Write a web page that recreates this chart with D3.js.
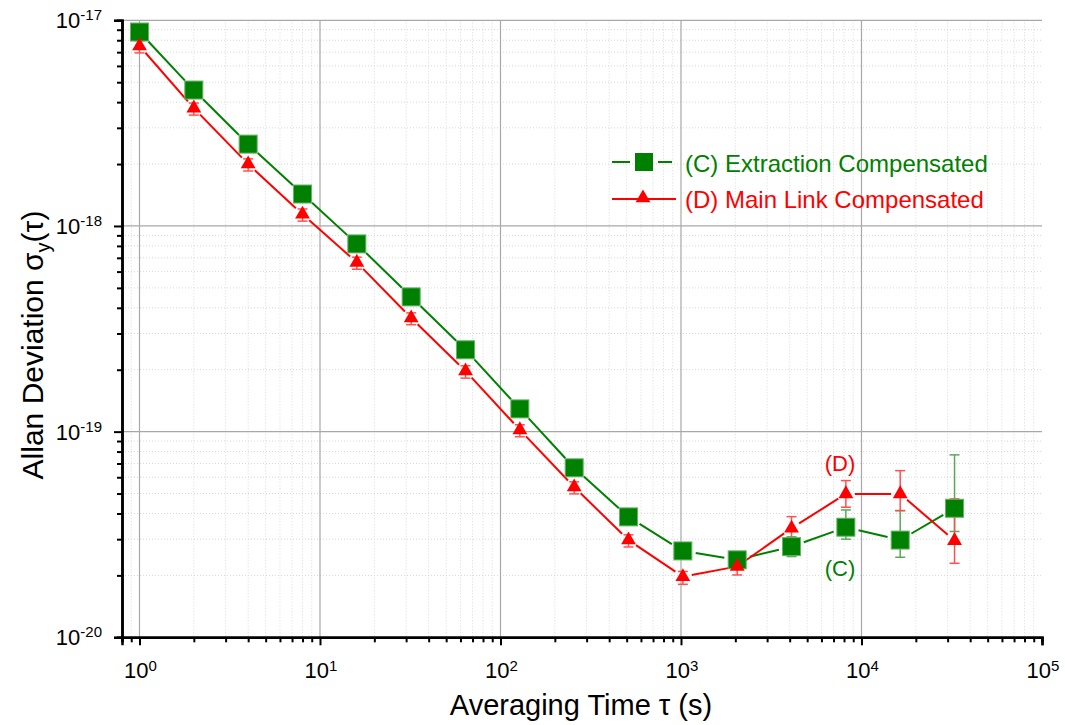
<!DOCTYPE html>
<html><head><meta charset="utf-8">
<script src="https://cdn.jsdelivr.net/npm/d3@7"></script>
<style>body{margin:0;background:#fff}svg text{font-family:"Liberation Sans",Arial,sans-serif}</style>
</head><body><svg id="c" width="1065" height="725"></svg>
<script>
const tau = [1,2,4,8,16,32,64,128,256,512,1024,2048,4096,8192,16384,32768];
const seriesC = [8.77e-18,4.58e-18,2.50e-18,1.43e-18,8.18e-19,4.52e-19,2.50e-19,1.29e-19,6.67e-20,3.85e-20,2.63e-20,2.38e-20,2.76e-20,3.43e-20,2.97e-20,4.24e-20];
const seriesCLo = [8.3e-18,4.35e-18,2.38e-18,1.36e-18,7.8e-19,4.3e-19,2.38e-19,1.22e-19,6.3e-20,3.65e-20,2.5e-20,2.28e-20,2.47e-20,3.00e-20,2.45e-20,3.27e-20];
const seriesCHi = [9.2e-18,4.8e-18,2.62e-18,1.5e-18,8.6e-19,4.75e-19,2.62e-19,1.36e-19,7.0e-20,4.05e-20,2.76e-20,2.5e-20,3.08e-20,4.16e-20,4.13e-20,7.71e-20];
const seriesD = [7.5e-18,3.74e-18,2.00e-18,1.14e-18,6.65e-19,3.57e-19,1.97e-19,1.02e-19,5.38e-20,2.97e-20,1.97e-20,2.21e-20,3.39e-20,4.98e-20,4.98e-20,2.95e-20];
const seriesDLo = [6.94e-18,3.46e-18,1.85e-18,1.056e-18,6.16e-19,3.31e-19,1.82e-19,9.44e-20,4.98e-20,2.75e-20,1.81e-20,2.01e-20,3.04e-20,4.29e-20,4.13e-20,2.29e-20];
const seriesDHi = [7.95e-18,3.96e-18,2.12e-18,1.21e-18,7.05e-19,3.78e-19,2.09e-19,1.08e-19,5.7e-20,3.15e-20,2.09e-20,2.38e-20,3.86e-20,5.78e-20,6.46e-20,4.71e-20];
const xMajor = [1,10,100,1000,10000,100000];
const xExp = ["0","1","2","3","4","5"];
const yMajor = [1e-20,1e-19,1e-18,1e-17];
const yExp = ["-20","-19","-18","-17"];
const legendLabels = ["(C) Extraction Compensated","(D) Main Link Compensated"];
const green = "#008000", red = "#ff0000";

const svg = d3.select("#c");
const L=122,R=1042,T=20.3,B=637.3;
const x = d3.scaleLog().domain([0.8,1e5]).range([L,R]);
const y = d3.scaleLog().domain([1e-20,1e-17]).range([B,T]);

const xMinor=[0.8,0.9];
for(let e=0;e<5;e++)for(let m=2;m<=9;m++)xMinor.push(m*Math.pow(10,e));
const yMinor=[];
for(let e=-20;e<-17;e++)for(let m=2;m<=9;m++)yMinor.push(m*Math.pow(10,e));

const g=svg.append("g");
g.selectAll(".xm").data(xMinor).enter().append("line").attr("x1",d=>x(d)).attr("x2",d=>x(d)).attr("y1",T).attr("y2",B).attr("stroke","#d8d8d8").attr("stroke-width",1).attr("stroke-dasharray","1,2");
g.selectAll(".ym").data(yMinor).enter().append("line").attr("y1",d=>y(d)).attr("y2",d=>y(d)).attr("x1",L).attr("x2",R).attr("stroke","#d8d8d8").attr("stroke-width",1).attr("stroke-dasharray","1,2");
g.selectAll(".xg").data(xMajor.slice(0,5)).enter().append("line").attr("x1",d=>x(d)).attr("x2",d=>x(d)).attr("y1",T).attr("y2",B).attr("stroke","#a8a8a8").attr("stroke-width",1.2);
g.selectAll(".yg").data(yMajor.slice(1)).enter().append("line").attr("y1",d=>y(d)).attr("y2",d=>y(d)).attr("x1",L).attr("x2",R).attr("stroke","#a8a8a8").attr("stroke-width",1.2);

const xAxisMajor=d3.axisBottom(x).tickValues(xMajor).tickSize(8).tickFormat("");
const xAxisMinor=d3.axisBottom(x).tickValues(xMinor).tickSize(5).tickFormat("");
const yAxisMajor=d3.axisLeft(y).tickValues(yMajor).tickSize(8).tickFormat("");
const yAxisMinor=d3.axisLeft(y).tickValues(yMinor).tickSize(5).tickFormat("");
function styleAxis(sel){sel.select(".domain").attr("stroke","#000").attr("stroke-width",2.5);sel.selectAll(".tick line").attr("stroke","#000").attr("stroke-width",2);}
svg.append("g").attr("transform",`translate(0,${B})`).call(xAxisMinor).call(styleAxis);
svg.append("g").attr("transform",`translate(0,${B})`).call(xAxisMajor).call(styleAxis);
svg.append("g").attr("transform",`translate(${L},0)`).call(yAxisMinor).call(styleAxis);
svg.append("g").attr("transform",`translate(${L},0)`).call(yAxisMajor).call(styleAxis);

xMajor.forEach((v,i)=>{
  const t=svg.append("text").attr("x",x(v)+1).attr("y",B+41).attr("text-anchor","middle").attr("font-size",22);
  t.append("tspan").text("10");
  t.append("tspan").attr("dy",-7).attr("font-size",15).text(xExp[i]);
});
yMajor.forEach((v,i)=>{
  const t=svg.append("text").attr("x",L-20).attr("y",y(v)+8).attr("text-anchor","end").attr("font-size",22);
  t.append("tspan").text("10");
  t.append("tspan").attr("dy",-8).attr("font-size",15).text(yExp[i]);
});

svg.append("text").attr("x",581).attr("y",715).attr("text-anchor","middle").attr("font-size",29).text("Averaging Time τ (s)");
const yt=svg.append("text").attr("transform","translate(43,345) rotate(-90)").attr("text-anchor","middle").attr("font-size",30);
yt.append("tspan").text("Allan Deviation σ");
yt.append("tspan").attr("dy",7).attr("font-size",20).text("y");
yt.append("tspan").attr("dy",-7).text("(τ)");

function gapLines(vals,color,gap){
  for(let i=0;i<vals.length-1;i++){
    const x1=x(tau[i]),y1=y(vals[i]),x2=x(tau[i+1]),y2=y(vals[i+1]);
    const dx=x2-x1,dy=y2-y1,len=Math.hypot(dx,dy);
    if(len<=2*gap)continue;
    const ux=dx/len,uy=dy/len;
    svg.append("line").attr("x1",x1+ux*gap).attr("y1",y1+uy*gap).attr("x2",x2-ux*gap).attr("y2",y2-uy*gap).attr("stroke",color).attr("stroke-width",2);
  }
}
function errBars(lo,hi,color){
  tau.forEach((t,i)=>{
    const cx=x(t);
    svg.append("line").attr("x1",cx).attr("x2",cx).attr("y1",y(lo[i])).attr("y2",y(hi[i])).attr("stroke",color).attr("stroke-width",1.5);
    [lo[i],hi[i]].forEach(v=>svg.append("line").attr("x1",cx-5).attr("x2",cx+5).attr("y1",y(v)).attr("y2",y(v)).attr("stroke",color).attr("stroke-width",1.5));
  });
}
gapLines(seriesC,green,13);
gapLines(seriesD,red,9);
errBars(seriesCLo,seriesCHi,"#5aa85a");
errBars(seriesDLo,seriesDHi,"#ff5050");
tau.forEach((t,i)=>{
  svg.append("rect").attr("x",x(t)-9).attr("y",y(seriesC[i])-9).attr("width",18).attr("height",18).attr("fill",green).attr("stroke","#66b366").attr("stroke-width",1);
});
const tri=d3.symbol().type(d3.symbolTriangle).size(95);
tau.forEach((t,i)=>{
  svg.append("path").attr("d",tri()).attr("transform",`translate(${x(t)},${y(seriesD[i])})`).attr("fill",red);
});

const lx=612;
svg.append("line").attr("x1",lx).attr("x2",lx+18).attr("y1",162).attr("y2",162).attr("stroke",green).attr("stroke-width",2);
svg.append("line").attr("x1",lx+46).attr("x2",lx+60).attr("y1",162).attr("y2",162).attr("stroke",green).attr("stroke-width",2);
svg.append("rect").attr("x",lx+23).attr("y",153).attr("width",18).attr("height",18).attr("fill",green);
svg.append("text").attr("x",lx+73).attr("y",172).attr("font-size",24).attr("fill",green).text(legendLabels[0]);
svg.append("line").attr("x1",lx).attr("x2",lx+64).attr("y1",199).attr("y2",199).attr("stroke",red).attr("stroke-width",2);
svg.append("path").attr("d",tri()).attr("transform",`translate(${lx+31},198)`).attr("fill",red);
svg.append("text").attr("x",lx+73).attr("y",208).attr("font-size",24).attr("fill",red).text(legendLabels[1]);

svg.append("text").attr("x",840).attr("y",471).attr("text-anchor","middle").attr("font-size",22).attr("fill",red).text("(D)");
svg.append("text").attr("x",840).attr("y",576).attr("text-anchor","middle").attr("font-size",22).attr("fill",green).text("(C)");
</script></body></html>
